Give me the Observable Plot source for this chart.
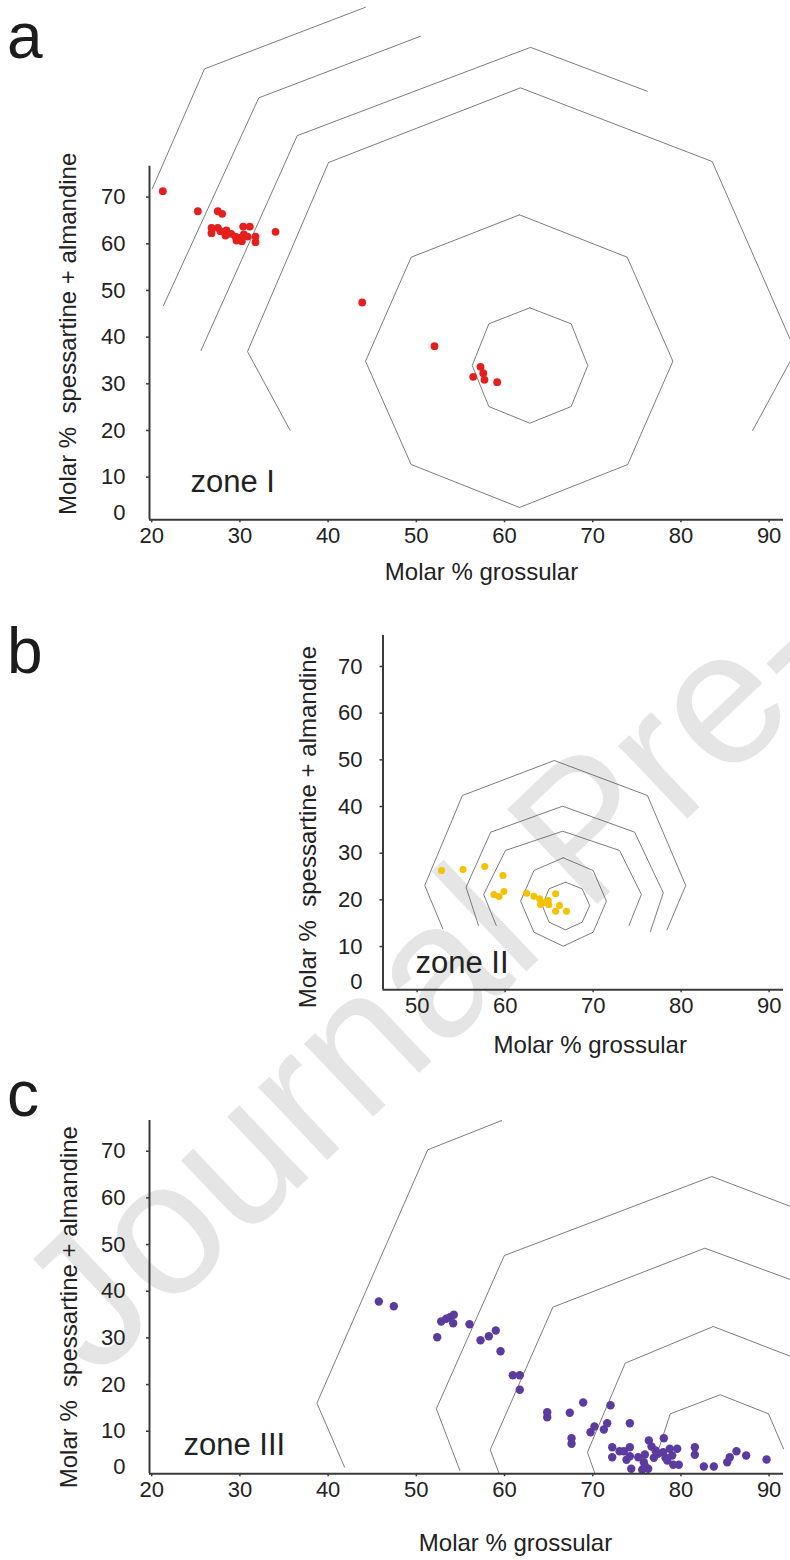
<!DOCTYPE html>
<html>
<head>
<meta charset="utf-8">
<script src="https://cdn.jsdelivr.net/npm/d3@7"></script>
<script src="https://cdn.jsdelivr.net/npm/@observablehq/plot@0.6"></script>
<style>
  html, body { margin: 0; padding: 0; background: #ffffff; }
  #root { position: relative; width: 790px; height: 1560px; overflow: hidden; background: #ffffff;
          font-family: "Liberation Sans", Arial, Helvetica, sans-serif; }
  .panel { position: absolute; left: 0; }
  .letter { position: absolute; font-size: 64px; line-height: 72px; height: 72px; color: #1c1c1c; }
  .wm { position: absolute; left: 0; top: 0; font-size: 190px; color: #e5e5e5; white-space: nowrap;
        transform-origin: 0 0; line-height: 1; }
</style>
</head>
<body>
<div id="root"></div>
<script>
// ---------------- shared text ----------------
const xTitle = "Molar % grossular";
const yTitle = "Molar %  spessartine + almandine";
const xTicksAC = [20, 30, 40, 50, 60, 70, 80, 90];
const xTicksB = [50, 60, 70, 80, 90];
const yTicks = [10, 20, 30, 40, 50, 60, 70];
const yZeroTick = [0];

// ---------------- panel a : zone I (red) ----------------
const aGrossular = [21.26, 25.23, 27.49, 27.99, 26.78, 26.78, 27.49, 27.80, 28.48, 28.37, 29.01, 29.50, 29.99, 30.22,
                    30.44, 30.37, 31.12, 31.77, 31.77, 34.04, 29.61, 30.86,
                    43.87, 52.06, 57.28, 57.59, 56.45, 57.73, 59.17];
const aSpessAlm  = [71.27, 66.98, 66.98, 66.42, 63.42, 62.27, 63.42, 62.70, 62.85, 61.78, 62.14, 61.56, 61.28, 60.55,
                    61.99, 63.70, 63.70, 61.56, 60.34, 62.57, 60.70, 61.56,
                    47.42, 38.06, 33.64, 32.27, 31.50, 30.86, 30.34];
const aContour1 = [[20.06, 71.78], [25.99, 97.49], [44.24, 110.69]];
const aContour2 = [[21.34, 46.78], [32.14, 91.28], [50.48, 104.48]];
const aContour3 = [[25.59, 37.14], [36.50, 83.18], [62.95, 102.1], [76.18, 92.69]];
const aContour4 = [[35.70, 20.0], [30.86, 36.92], [40.05, 77.42], [61.81, 93.42], [83.55, 77.63], [92.99, 36.92], [88.13, 20.0]];
const aContour5 = [[61.70, 66.21], [73.91, 57.13], [79.09, 34.84], [73.97, 12.71], [61.70, 3.50], [49.41, 12.71], [44.24, 34.84], [49.42, 57.13], [61.70, 66.21]];
const aContour6 = [[62.87, 46.28], [67.56, 42.85], [69.44, 33.92], [67.56, 25.13], [62.87, 21.56], [58.22, 25.13], [56.34, 33.92], [58.22, 42.85], [62.87, 46.28]];

// ---------------- panel b : zone II (yellow) ----------------
const bGrossular = [52.77, 55.22, 57.68, 59.75, 58.73, 59.30, 59.86, 62.44, 63.27, 63.91, 64.02, 64.90, 64.97, 65.73, 66.18, 65.73, 66.97, 64.48];
const bSpessAlm  = [26.29, 26.51, 27.15, 25.22, 21.15, 20.72, 21.79, 21.43, 20.78, 20.23, 19.01, 19.86, 18.94, 21.30, 18.79, 17.57, 17.57, 19.43];
const bContour1 = [[52.92, 13.80], [50.86, 23.08], [55.14, 42.36], [65.59, 49.86], [76.17, 42.36], [80.52, 23.08], [78.39, 13.58]];
const bContour2 = [[56.97, 14.51], [55.56, 22.71], [58.36, 34.50], [66.53, 40.07], [74.71, 34.50], [77.97, 21.50], [76.50, 13.20]];
const bContour3 = [[58.99, 14.51], [57.56, 21.15], [60.03, 30.58], [66.53, 34.71], [73.00, 30.58], [75.48, 21.15], [74.07, 14.51]];
const bContour4 = [[66.60, 29.01], [70.00, 26.29], [71.51, 19.71], [70.00, 13.07], [66.60, 10.07], [63.27, 13.07], [61.76, 19.71], [63.27, 26.29], [66.60, 29.01]];
const bContour5 = [[66.86, 23.78], [68.75, 22.37], [69.61, 18.79], [68.75, 15.21], [66.86, 13.58], [64.99, 15.21], [64.22, 18.79], [64.99, 22.37], [66.86, 23.78]];

// ---------------- panel c : zone III (purple) ----------------
const cGrossular = [45.75, 47.45, 52.37, 52.82, 53.39, 53.80, 54.25, 54.18, 56.03, 57.28, 58.22, 59.01, 59.55, 60.94, 61.73, 61.73,
                    64.84, 64.84, 67.40, 68.92, 72.02, 67.60, 67.60, 70.20, 69.75, 71.64, 71.26, 74.21, 72.21, 72.21,
                    73.04, 73.53, 74.21, 73.83, 74.21, 74.37, 75.16, 75.61, 75.91, 75.91, 76.36, 76.67, 77.12, 76.93,
                    77.38, 78.06, 77.99, 78.25, 78.45, 78.74, 79.01, 79.13, 79.58, 79.76, 81.58, 81.58, 82.60, 83.73,
                    85.25, 85.54, 86.30, 87.40, 89.71, 76.29, 75.79];
const cSpessAlm  = [37.80, 36.79, 30.15, 33.51, 34.09, 34.43, 34.95, 33.15, 32.93, 29.51, 30.36, 31.58, 27.15, 22.01, 22.01, 18.88,
                    14.08, 13.01, 13.95, 16.16, 15.58, 8.51, 7.31, 11.01, 9.79, 11.72, 10.37, 11.72, 6.58, 4.44,
                    5.72, 5.72, 6.58, 3.88, 4.65, 1.95, 4.44, 1.74, 5.01, 2.59, 8.01, 6.73, 5.87, 4.31,
                    5.16, 8.51, 5.51, 4.31, 3.73, 6.24, 4.80, 2.81, 6.24, 2.81, 6.58, 4.95, 2.44, 2.44,
                    3.36, 4.44, 5.72, 4.80, 3.94, 1.95, 3.36];
const cContour1 = [[59.69, 76.58], [51.29, 70.30], [38.73, 16.01], [41.87, 2.29]];
const cContour2 = [[93.50, 57.40], [83.50, 64.58], [59.98, 47.65], [52.27, 14.81], [54.94, 1.59]];
const cContour3 = [[93.56, 41.70], [82.71, 49.22], [65.48, 36.58], [58.38, 6.02], [59.40, 0.88]];
const cContour4 = [[93.56, 25.22], [83.67, 32.44], [73.68, 24.58], [69.40, 5.51], [70.26, 0.88]];
const cContour5 = [[91.63, 6.24], [89.93, 13.73], [84.46, 17.81], [78.79, 13.73], [77.35, 5.44]];

// ---------------- drawing ----------------
const FONT = '"Liberation Sans", Arial, Helvetica, sans-serif';
const INK = "#222222";
const AXIS = "#3a3a3a";
const root = document.getElementById("root");

function panel(opts) {
  const pts = opts.gross.map((g, i) => ({g, s: opts.spess[i]}));
  const marks = [];
  opts.contours.forEach(c => marks.push(Plot.line(c, {x: d => d[0], y: d => d[1], stroke: "#5a5a5a", strokeWidth: 0.8})));
  marks.push(Plot.dot(pts, {x: "g", y: "s", r: opts.r, fill: opts.color, stroke: "none"}));
  marks.push(Plot.ruleX([opts.xDomain[0]], {stroke: AXIS, strokeWidth: 2}));
  marks.push(Plot.ruleY([opts.yDomain[0]], {stroke: AXIS, strokeWidth: 2}));
  marks.push(Plot.axisX(opts.xTicks, {tickSize: 3, tickPadding: 5, fontSize: 22, fill: INK, stroke: AXIS, strokeWidth: 1.5, label: null}));
  marks.push(Plot.axisY(yTicks, {tickSize: 3, tickPadding: opts.yPad, fontSize: 22, fill: INK, stroke: AXIS, strokeWidth: 1.5, label: null}));
  marks.push(Plot.axisY(yZeroTick, {tickSize: 0, tickPadding: opts.yPad + 3, dy: -11, fontSize: 22, fill: INK, label: null}));
  marks.push(Plot.text([xTitle], {frameAnchor: "bottom", textAnchor: "middle", lineAnchor: "middle", dx: opts.xtDx, dy: opts.xtDy, fontSize: 24, fill: INK}));
  marks.push(Plot.text([yTitle], {frameAnchor: "left", rotate: -90, textAnchor: "middle", lineAnchor: "middle", dx: opts.ytDx, dy: opts.ytDy, fontSize: 24, fill: INK}));
  marks.push(Plot.text([opts.zone], {frameAnchor: "bottom-left", textAnchor: "start", lineAnchor: "bottom", dx: opts.zDx, dy: opts.zDy, fontSize: 31, fill: INK}));
  const svg = Plot.plot({
    width: 790, height: opts.height,
    marginLeft: opts.marginLeft, marginRight: 7, marginTop: opts.marginTop, marginBottom: opts.marginBottom,
    x: {domain: opts.xDomain}, y: {domain: opts.yDomain},
    style: {fontFamily: FONT, background: "transparent", overflow: "visible"},
    marks
  });
  svg.classList.add("panel");
  svg.style.top = opts.top + "px";
  root.appendChild(svg);
}

// watermark (drawn behind the charts)
const wm = document.createElement("div");
wm.className = "wm";
wm.textContent = "Journal Pre-";
wm.style.transform = "translate(88px, 1372px) rotate(-43.5deg) translate(0, -150px)";
root.appendChild(wm);

panel({top: 0, height: 600, marginLeft: 149, marginTop: 165.7, marginBottom: 80.7,
  xDomain: [19.75, 91.63], yDomain: [0.86, 76.63], xTicks: xTicksAC, yPad: 21,
  gross: aGrossular, spess: aSpessAlm, color: "#e3201e", r: 3.9,
  contours: [aContour1, aContour2, aContour3, aContour4, aContour5, aContour6],
  zone: "zone I", zDx: 41, zDy: -27.6, xtDx: 15, xtDy: 52.7, ytDx: -81, ytDy: -9.2});

panel({top: 600, height: 470, marginLeft: 382.5, marginTop: 35, marginBottom: 80.7,
  xDomain: [46.12, 91.63], yDomain: [0.73, 76.64], xTicks: xTicksB, yPad: 17.5,
  gross: bGrossular, spess: bSpessAlm, color: "#f6c100", r: 3.5,
  contours: [bContour1, bContour2, bContour3, bContour4, bContour5],
  zone: "zone II", zDx: 32.5, zDy: -17.3, xtDx: 7, xtDy: 56, ytDx: -75, ytDy: 14.4});

panel({top: 1070, height: 490, marginLeft: 149, marginTop: 50, marginBottom: 86.7,
  xDomain: [19.75, 91.63], yDomain: [0.88, 76.58], xTicks: xTicksAC, yPad: 21,
  gross: cGrossular, spess: cSpessAlm, color: "#5b3b9d", r: 4.2,
  contours: [cContour1, cContour2, cContour3, cContour4, cContour5],
  zone: "zone III", zDx: 34, zDy: -19.3, xtDx: 49, xtDy: 69.7, ytDx: -80, ytDy: 10});

// panel letters (line box 72px, baseline about 59px below its top)
[["a", 7, 0], ["b", 7, 615], ["c", 7, 1058]].forEach(([t, l, tp]) => {
  const d = document.createElement("div");
  d.className = "letter";
  d.textContent = t;
  d.style.left = l + "px";
  d.style.top = tp + "px";
  root.appendChild(d);
});
</script>
</body>
</html>
